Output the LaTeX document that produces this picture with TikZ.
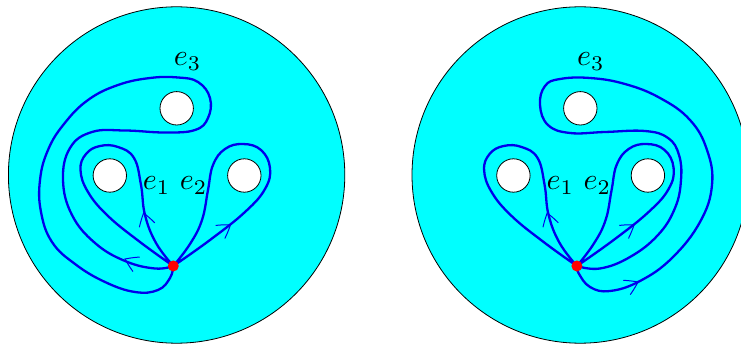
\documentclass[tikz,border=0pt]{standalone}
\definecolor{aqua}{RGB}{0,255,255}
\definecolor{pureblue}{RGB}{0,0,235}
\definecolor{purered}{RGB}{255,0,0}
\newcommand\mychev[2]{\draw[chev,shift={#1},rotate=#2] (-12.5,8) .. controls (-7,5) and (-2,1.5) .. (0,0) .. controls (-2,-1.5) and (-7,-5) .. (-12.5,-8);}
\begin{document}
\begin{tikzpicture}[x=1pt,y=-1pt,
  disk/.style={draw=black,line width=0.8pt,fill=aqua},
  hole/.style={draw=black,line width=0.8pt,fill=white},
  loopline/.style={draw=pureblue,line width=2.3pt,line join=round,line cap=round},
  chev/.style={draw=pureblue,line width=1pt},
  lbl/.style={inner sep=0pt,scale=3},
  dot/.style={circle,fill=purered,inner sep=0pt,minimum size=11pt}]
\clip (0,0) rectangle (741,347);
\fill[white] (0,0) rectangle (741,347);
% disks
\draw[disk] (176.6,175) circle (168.2);
\draw[disk] (580.2,175) circle (168.2);
% holes, e1 and e2 loops (same in both disks)
\foreach \dx in {0,403.6}{
  \begin{scope}[xshift=\dx]
  \draw[hole] (176.7,108.3) circle (16.7);
  \draw[hole] (109.8,175.5) circle (16.7);
  \draw[hole] (244.3,175.5) circle (16.7);
  \draw[loopline] plot[smooth,tension=0.7] coordinates {(173.3,266) (156,243) (145,215) (141,185) (134,158) (118,147) (100,146) (86,154) (80.5,170) (88,192) (108,216) (140,242) (173.3,266)};
  \draw[loopline] plot[smooth,tension=0.7] coordinates {(173.3,266) (190,244) (202,220) (208,190) (213,165) (225,149) (243,144) (261,150) (270,168) (265,189) (245,212) (210,240) (173.3,266)};
  \mychev{(143.6,213)}{106}
  \mychev{(230.5,224.8)}{35}
  \end{scope}
}
% e3 left
\draw[loopline] plot[smooth,tension=0.7] coordinates {(173.3,266) (155,268.5) (125,261) (95,243) (72,215) (63,180) (70,148) (92,132) (125,130.5) (165,132.5) (195,130) (208,118) (210,98) (198,82) (178,77.5) (150,78) (118,85) (88,100) (64,124) (48,150) (40,180) (41,212) (52,242) (75,264) (105,282) (135,292) (158,290) (170,278) (173.3,266)};
\mychev{(125,259)}{155}
% e3 right
\draw[loopline] plot[smooth,tension=0.7] coordinates {(576.9,266) (578.5,273) (590,287) (610,291) (640,281) (672,258) (700,222) (712,185) (707,150) (690,120) (660,98) (625,84) (590,78) (560,79) (545,86) (540,105) (548,125) (570,133) (605,132) (645,131) (668,138) (679,155) (681,180) (675,208) (658,235) (630,257) (600,268.5) (576.9,266)};
\mychev{(638,282)}{26}
% base points
\node[dot] (P1) at (173.3,266) {};
\node[dot] (P2) at (576.9,266) {};
% labels
\node[lbl] (a1) at (156.7,185.5) {$e_1$};
\node[lbl] (a2) at (193.7,185.5) {$e_2$};
\node[lbl] (a3) at (187.5,61.7) {$e_3$};
\node[lbl] (b1) at (560.3,185.5) {$e_1$};
\node[lbl] (b2) at (597.3,185.5) {$e_2$};
\node[lbl] (b3) at (590.8,61.7) {$e_3$};
\end{tikzpicture}
\end{document}
